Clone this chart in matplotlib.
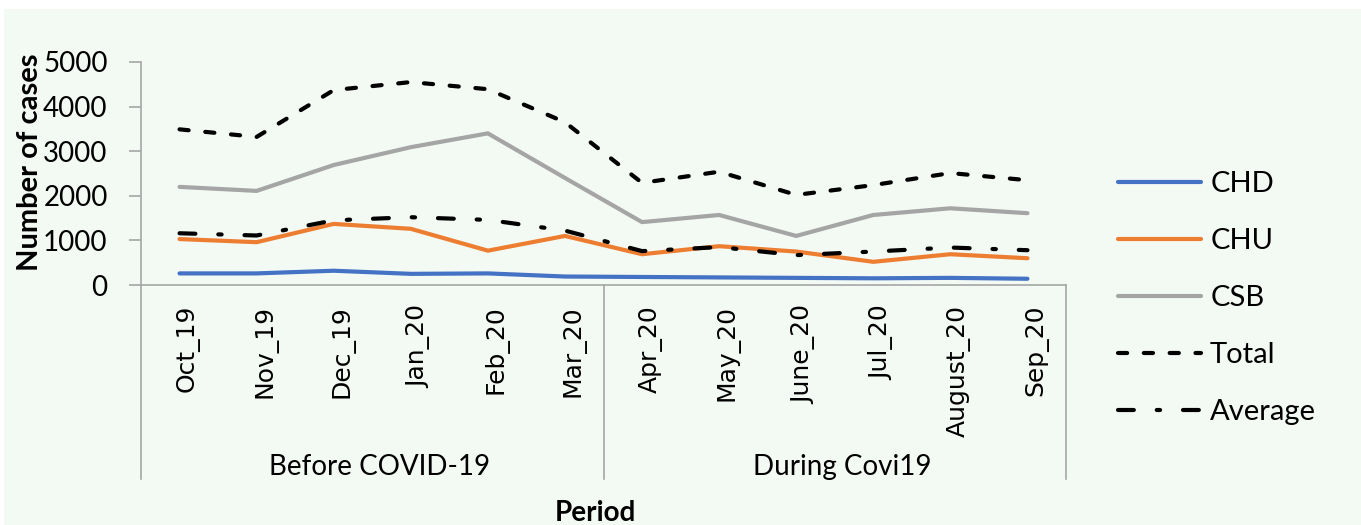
import matplotlib.pyplot as plt
import matplotlib.patches as mpatches

months = ['Oct_19', 'Nov_19', 'Dec_19', 'Jan_20', 'Feb_20', 'Mar_20',
          'Apr_20', 'May_20', 'June_20', 'Jul_20', 'August_20', 'Sep_20']
groups = ['Before COVID-19', 'During Covi19']
group_sizes = [6, 6]

chd = [260, 260, 320, 250, 260, 190, 180, 170, 160, 150, 160, 140]
chu = [1030, 960, 1370, 1260, 770, 1100, 690, 870, 750, 520, 690, 600]
csb = [2200, 2110, 2690, 3090, 3400, 2400, 1410, 1570, 1100, 1570, 1720, 1610]
total = [3490, 3320, 4370, 4550, 4390, 3650, 2290, 2540, 2020, 2240, 2510, 2350]
average = [1160, 1110, 1450, 1520, 1460, 1220, 760, 850, 670, 750, 840, 780]

bg = '#F3FAF4'
grey = '#A6A6A6'

fig = plt.figure(figsize=(13.61, 5.25), dpi=100)
fig.patch.set_facecolor('white')
# tinted chart area (thin white margin at top/left like the source)
fig.patches.append(mpatches.Rectangle((4 / 1361, 0), 1 - 4 / 1361, 1 - 9 / 525,
                                      transform=fig.transFigure, facecolor=bg,
                                      edgecolor='none', zorder=-10))

ax = fig.add_axes([141 / 1361, 1 - 285 / 525, 925 / 1361, 223 / 525])
ax.set_facecolor(bg)

x = list(range(len(months)))
lw = 3
ax.plot(x, chd, color='#4472C4', lw=lw, label='CHD', solid_capstyle='round')
ax.plot(x, chu, color='#ED7D31', lw=lw, label='CHU', solid_capstyle='round')
ax.plot(x, csb, color='#A5A5A5', lw=lw, label='CSB', solid_capstyle='round')
ax.plot(x, total, color='black', lw=lw, dashes=(2.2, 4.0), dash_capstyle='round',
        label='Total')
ax.plot(x, average, color='black', lw=lw, dashes=(3.8, 5.5, 0.8, 5.5),
        dash_capstyle='round', label='Average')

ax.set_xlim(-0.5, len(months) - 0.5)
ax.set_ylim(0, 5000)
ax.set_yticks(range(0, 5001, 1000))
ax.tick_params(axis='y', length=9, width=1.2, color=grey, labelsize=20,
               pad=15)
for t in ax.get_yticklabels():
    t.set_fontfamily('Lato')
ax.set_xticks([])

for s in ['top', 'right']:
    ax.spines[s].set_visible(False)
ax.spines['left'].set_color(grey)
ax.spines['bottom'].set_color(grey)
ax.spines['left'].set_linewidth(1.2)
ax.spines['bottom'].set_linewidth(1.2)

# multi-level category axis
trans = ax.get_xaxis_transform()
bounds = [-0.5]
for g in group_sizes:
    bounds.append(bounds[-1] + g)
depth = -(479 - 285) / 223
for b in bounds:
    ax.plot([b, b], [0, depth], transform=trans, color=grey, lw=1.2,
            clip_on=False)
for i, m in enumerate(months):
    ax.text(i + 0.11, -20 / 223, m, transform=trans, rotation=90, ha='center',
            va='top', fontsize=18, family='DejaVu Sans')
for k, g in enumerate(groups):
    cx = (bounds[k] + bounds[k + 1]) / 2
    ax.text(cx + 0.1, -(467 - 285) / 223, g, transform=trans, ha='center',
            va='center', fontsize=20, family='Lato')

fig.text(595 / 1361, 1 - 513 / 525, 'Period', ha='center', va='center',
         fontsize=20, fontweight='bold', family='Lato')
fig.text(30 / 1361, 1 - 162 / 525, 'Number of cases', ha='center',
         va='center', rotation=90, fontsize=21, fontweight='bold',
         family='Lato')

handles, labels = ax.get_legend_handles_labels()
leg = fig.legend(handles, labels, loc='upper left',
                 bbox_to_anchor=(1092 / 1361, 1 - 145 / 525),
                 frameon=False, handlelength=2.85, handletextpad=0.3,
                 labelspacing=1.06, prop={'family': 'Lato', 'size': 21})

fig.savefig('out.png', dpi=100, facecolor=fig.get_facecolor())
